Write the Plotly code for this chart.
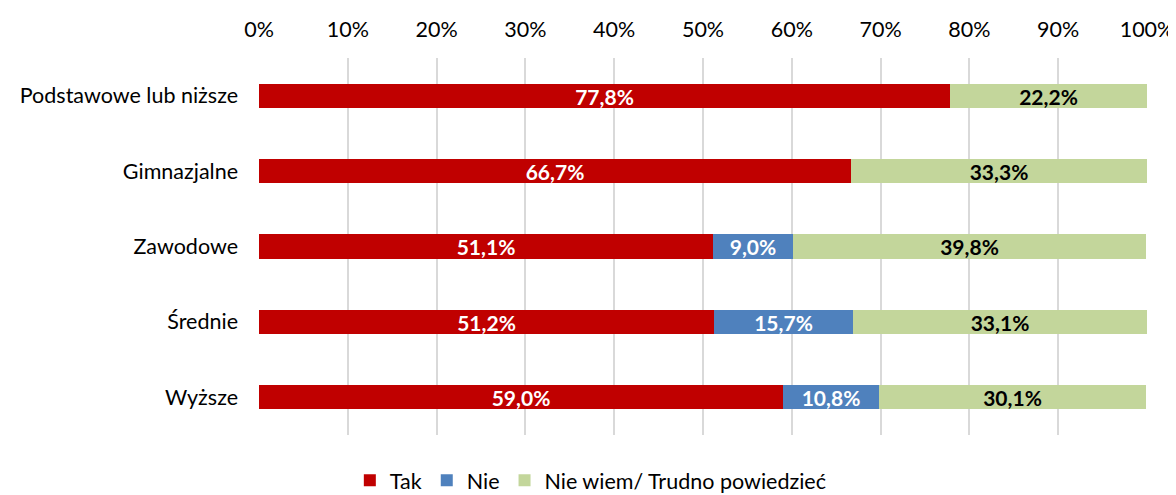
import plotly.graph_objects as go

categories = ["Podstawowe lub niższe", "Gimnazjalne", "Zawodowe", "Średnie", "Wyższe"]
tak = [77.8, 66.7, 51.1, 51.2, 59.0]
nie = [0.0, 0.0, 9.0, 15.7, 10.8]
nie_wiem = [22.2, 33.3, 39.8, 33.1, 30.1]
tick_vals = list(range(0, 101, 10))
tick_text = [f"{v}%" for v in tick_vals]

FONT = "Lato, 'Open Sans', sans-serif"


def fmt(values):
    return [f"{v:.1f}%".replace(".", ",") if v > 0 else "" for v in values]


series = [
    ("Tak", tak, "#C00000", "white"),
    ("Nie", nie, "#4F81BD", "white"),
    ("Nie wiem/ Trudno powiedzieć", nie_wiem, "#C3D69B", "black"),
]

fig = go.Figure()
for name, vals, color, txtcolor in series:
    fig.add_trace(
        go.Bar(
            y=categories,
            x=vals,
            name=name,
            orientation="h",
            marker=dict(color=color, line=dict(width=0)),
            width=0.32,
            text=fmt(vals),
            textposition="inside",
            insidetextanchor="middle",
            textangle=0,
            constraintext="none",
            textfont=dict(family=FONT, size=21, color=txtcolor, weight="bold"),
        )
    )

# page body adds an 8px margin, so the figure is sized to fit the window
fig.update_layout(
    barmode="stack",
    width=1168,
    height=487,
    margin=dict(l=251, r=29, t=50, b=60),
    paper_bgcolor="white",
    plot_bgcolor="white",
    font=dict(family=FONT, size=21.5, color="black"),
    bargap=0,
    legend=dict(
        orientation="h",
        xref="container",
        yref="container",
        x=0.499,
        xanchor="center",
        y=0.03,
        yanchor="middle",
        font=dict(size=21.5),
        traceorder="normal",
        itemwidth=30,
    ),
    xaxis=dict(
        side="top",
        range=[0, 100],
        tickvals=tick_vals,
        ticktext=tick_text,
        showgrid=True,
        gridcolor="#D9D9D9",
        gridwidth=2,
        zeroline=False,
        showline=False,
        ticks="",
        ticklabelstandoff=16,
        ticklabeloverflow="allow",
        automargin=False,
    ),
    yaxis=dict(
        categoryorder="array",
        categoryarray=categories,
        range=[4.5, -0.5],
        showgrid=False,
        zeroline=False,
        showline=False,
        ticks="",
        ticklabelstandoff=20,
        automargin=False,
    ),
)

fig.write_html("out.html")
